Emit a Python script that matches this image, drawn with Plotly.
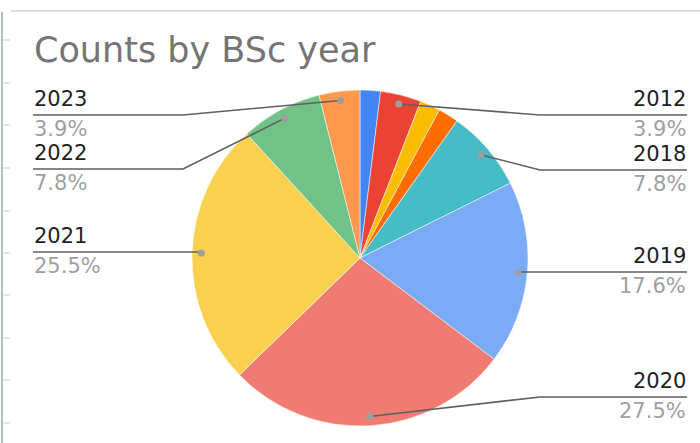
import math
import plotly.graph_objects as go

# ---- data ----
years = ["2011", "2012", "2015", "2017", "2018", "2019", "2020", "2021", "2022", "2023"]
counts = [1, 2, 1, 1, 4, 9, 14, 13, 4, 2]
colors = ["#4285F4", "#EA4335", "#FBBC04", "#FF6D01", "#46BDC6",
          "#7BAAF7", "#F07B72", "#FCD04F", "#71C287", "#FF994D"]
labelled = ["2012", "2018", "2019", "2020", "2021", "2022", "2023"]

# ---- layout constants ----
W, H = 700, 443
CX, CY, R = 360, 258, 168
# label line y (px from top), side
label_layout = {
    "2012": (115, "right"), "2018": (170, "right"), "2019": (272, "right"),
    "2020": (397, "right"), "2021": (252, "left"), "2022": (169, "left"),
    "2023": (115, "left"),
}
LEFT_X, LEFT_ELBOW = 33, 183
RIGHT_X, RIGHT_ELBOW = 687, 540
FONT = "DejaVu Sans, Arial"

def px(x):
    return x / W

def py(y):
    return 1 - y / H

fig = go.Figure(go.Pie(
    labels=years, values=counts, sort=False, direction="clockwise", rotation=0,
    marker=dict(colors=colors, line=dict(color="white", width=0.5)),
    textinfo="none", hoverinfo="label+percent", showlegend=False,
    domain=dict(x=[px(CX - R), px(CX + R)], y=[py(CY + R), py(CY - R)]),
))

shapes = []
annotations = []
total = sum(counts)
cum = 0
for yr, c in zip(years, counts):
    start = cum
    cum += c
    if yr not in labelled:
        continue
    mid = (start + c / 2) / total * 2 * math.pi
    d = 0.945 * R
    dx = CX + d * math.sin(mid)
    dy = CY - d * math.cos(mid)
    ly, side = label_layout[yr]
    pct = f"{c / total * 100:.1f}%"
    if side == "left":
        xe = LEFT_ELBOW if dx - LEFT_ELBOW > 30 and abs(dy - ly) > 3 else dx
        pts = [(LEFT_X, ly), (xe, ly), (dx, dy)]
        tx, anchor = LEFT_X, "left"
    else:
        xe = RIGHT_ELBOW if RIGHT_ELBOW - dx > 20 and abs(dy - ly) > 3 else dx
        pts = [(RIGHT_X, ly), (xe, ly), (dx, dy)]
        tx, anchor = RIGHT_X, "right"
    path = "M " + " L ".join(f"{px(a)},{py(b)}" for a, b in pts)
    shapes.append(dict(type="path", path=path, xref="paper", yref="paper",
                       line=dict(color="#5f5f5f", width=1.6)))
    shapes.append(dict(type="circle", xref="paper", yref="paper",
                       x0=px(dx - 3.5), x1=px(dx + 3.5), y0=py(dy + 3.5), y1=py(dy - 3.5),
                       fillcolor="#9e9e9e", line=dict(width=0)))
    annotations.append(dict(x=px(tx), y=py(ly - 16), xref="paper", yref="paper",
                            text=yr, showarrow=False, xanchor=anchor, yanchor="middle",
                            borderpad=0,
                            font=dict(family=FONT, size=21, color="#1f1f1f")))
    annotations.append(dict(x=px(tx), y=py(ly + 14), xref="paper", yref="paper",
                            text=pct, showarrow=False, xanchor=anchor, yanchor="middle",
                            borderpad=0,
                            font=dict(family=FONT, size=21, color="#a0a0a0")))

# title
annotations.append(dict(x=px(33), y=py(50), xref="paper", yref="paper",
                        text="Counts by BSc year", showarrow=False, xanchor="left",
                        yanchor="middle", borderpad=0,
                        font=dict(family=FONT, size=35, color="#757575")))

# spreadsheet frame artifacts
shapes.append(dict(type="line", xref="paper", yref="paper", x0=px(11), x1=1, y0=py(11), y1=py(11),
                   line=dict(color="#cfcfcf", width=1.5)))
shapes.append(dict(type="line", xref="paper", yref="paper", x0=px(2), x1=px(2), y0=py(12), y1=0,
                   line=dict(color="#9aa6bd", width=1.5)))
for ty in [40, 83, 125, 168, 211, 253, 295, 338, 380, 423]:
    shapes.append(dict(type="line", xref="paper", yref="paper", x0=px(2), x1=px(10),
                       y0=py(ty), y1=py(ty), line=dict(color="#c5cbd8", width=1)))

fig.update_layout(width=W, height=H, margin=dict(l=0, r=0, t=0, b=0),
                  paper_bgcolor="white", plot_bgcolor="white",
                  shapes=shapes, annotations=annotations)
fig.write_html("out.html")
